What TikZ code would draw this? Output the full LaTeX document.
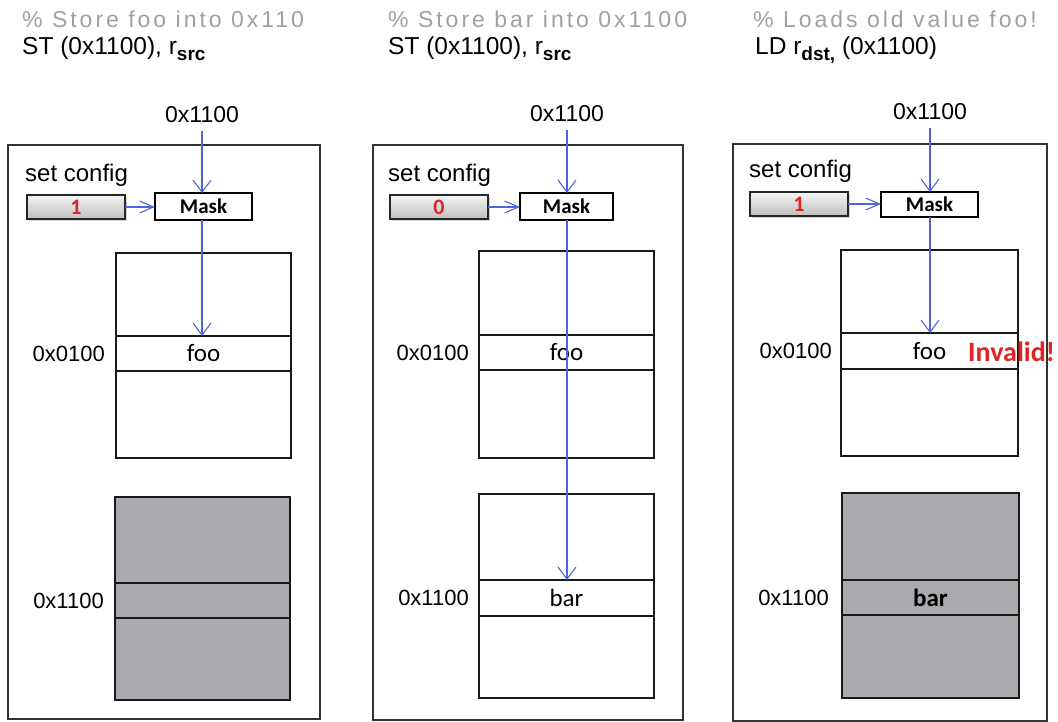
\documentclass[tikz,border=0pt]{standalone}
\usepackage{fontspec}
\setmainfont{Liberation Sans}
\newfontfamily\calfont{Carlito}
\newfontfamily\lightfont[LetterSpace=13]{Liberation Sans}
\usetikzlibrary{arrows.meta,shadows}
\definecolor{arrblue}{RGB}{80,100,220}
\definecolor{graytxt}{RGB}{160,160,160}
\definecolor{redtxt}{RGB}{225,35,35}
\definecolor{memgray}{RGB}{170,170,174}
\newcommand{\subtxt}[1]{\raisebox{-6pt}{\fontsize{19}{19}\selectfont\bfseries #1}}
\begin{document}
\begin{tikzpicture}[x=1pt,y=-1pt,
  frame/.style={draw=black!80, line width=1.6pt},
  cell/.style={draw=black!90, line width=1.8pt, inner sep=0pt, outer sep=0pt, anchor=north west, minimum width=#1},
  whitecell/.style={cell=#1, fill=white},
  graycell/.style={cell=#1, fill=memgray},
  cfgbox/.style={draw=black!85, line width=1.4pt, inner sep=0pt, outer sep=0pt, anchor=north west,
     minimum width=98pt, minimum height=24pt, top color=gray!8, bottom color=gray!50,
     drop shadow={opacity=0.35, shadow xshift=1.5pt, shadow yshift=-2.5pt},
     font=\calfont\fontsize{22}{22}\selectfont\bfseries\color{redtxt}},
  maskbox/.style={draw=black, line width=1.5pt, fill=white, inner sep=0pt, outer sep=0pt, anchor=north west,
     font=\calfont\fontsize{21}{21}\selectfont\bfseries},
  hdrgray/.style={anchor=base west, inner sep=0pt, text=graytxt, font=\lightfont\fontsize{23}{23}\selectfont},
  hdr/.style={anchor=base west, inner sep=0pt, font=\fontsize{24.5}{25}\selectfont},
  addr/.style={anchor=base, inner sep=0pt, font=\fontsize{23}{23}\selectfont},
  lbl/.style={anchor=east, inner sep=0pt, font=\fontsize{22}{22}\selectfont},
  cfgtxt/.style={anchor=base west, inner sep=0pt, font=\fontsize{24}{24}\selectfont},
  val/.style={font=\calfont\fontsize{25}{25}\selectfont},
  arr/.style={draw=arrblue, line width=1.1pt, -{Straight Barb[length=12pt,width=18pt,line width=1.1pt]}},
  harr/.style={draw=arrblue, line width=1.1pt, -{Straight Barb[length=14pt,width=12pt,line width=1.1pt]}}
]
\useasboundingbox (0,0) rectangle (1058,722);

% ---------- headers ----------
\node[hdrgray] (g1) at (22,28) {\% Store foo into 0x110};
\node[hdr] (h1) at (22,55) {ST (0x1100), r\subtxt{src}};
\node[hdrgray] (g2) at (388,28) {\% Store bar into 0x1100};
\node[hdr] (h2) at (388,55) {ST (0x1100), r\subtxt{src}};
\node[hdrgray] (g3) at (753,28) {\% Loads old value foo!};
\node[hdr] (h3) at (755,55) {LD r\subtxt{dst,} (0x1100)};

% ---------- frames ----------
\draw[frame] (8,145) rectangle (320,719);
\draw[frame] (373,145) rectangle (683,720);
\draw[frame] (733,144) rectangle (1047,721);

% ---------- panel 1 ----------
\node[addr] (a1) at (202,123) {0x1100};
\coordinate (t1) at (202,131);
\node[cfgtxt] (s1) at (25,182) {set config};
\node[cfgbox] (c1) at (27,195) {1};
\node[maskbox, minimum width=97pt, minimum height=27pt] (k1) at (155,193) {Mask};
\node[whitecell=175pt, minimum height=83pt] (p1a) at (116,253) {};
\node[whitecell=175pt, minimum height=35pt, val] (p1b) at (116,336) {foo};
\node[whitecell=175pt, minimum height=87pt] (p1c) at (116,371) {};
\node[graycell=175pt, minimum height=86pt] (p1d) at (115,497) {};
\node[graycell=175pt, minimum height=35pt] (p1e) at (115,583) {};
\node[graycell=175pt, minimum height=82pt] (p1f) at (115,618) {};
\node[lbl] (l1a) at ([xshift=-11pt]p1b.west) {0x0100};
\node[lbl] (l1b) at ([xshift=-11pt]p1e.west) {0x1100};
\draw[arr] (t1) -- (t1 |- k1.north);
\draw[harr] (c1.east) -- (c1.east -| k1.west);
\draw[arr] (t1 |- k1.south) -- (t1 |- p1b.north);

% ---------- panel 2 ----------
\node[addr] (a2) at (567,122) {0x1100};
\coordinate (t2) at (567,130);
\node[cfgtxt] (s2) at (388,182) {set config};
\node[cfgbox] (c2) at (390,195) {0};
\node[maskbox, minimum width=93pt, minimum height=27pt] (k2) at (520,193) {Mask};
\node[whitecell=175pt, minimum height=84pt] (p2a) at (479,251) {};
\node[whitecell=175pt, minimum height=35pt, val] (p2b) at (479,335) {foo};
\node[whitecell=175pt, minimum height=88pt] (p2c) at (479,370) {};
\node[whitecell=175pt, minimum height=86pt] (p2d) at (479,494) {};
\node[whitecell=175pt, minimum height=36pt, val] (p2e) at (479,580) {bar};
\node[whitecell=175pt, minimum height=82pt] (p2f) at (479,616) {};
\node[lbl] (l2a) at ([xshift=-10pt]p2b.west) {0x0100};
\node[lbl] (l2b) at ([xshift=-10pt]p2e.west) {0x1100};
\draw[arr] (t2) -- (t2 |- k2.north);
\draw[harr] (c2.east) -- (c2.east -| k2.west);
\draw[arr] (t2 |- k2.south) -- (t2 |- p2e.north);

% ---------- panel 3 ----------
\node[addr] (a3) at (930,120) {0x1100};
\coordinate (t3) at (930,128);
\node[cfgtxt] (s3) at (749,178) {set config};
\node[cfgbox] (c3) at (750,192) {1};
\node[maskbox, minimum width=97pt, minimum height=25pt] (k3) at (881,192) {Mask};
\node[whitecell=177pt, minimum height=83pt] (p3a) at (841,250) {};
\node[whitecell=177pt, minimum height=36pt, val] (p3b) at (841,333) {foo};
\node[whitecell=177pt, minimum height=87pt] (p3c) at (841,369) {};
\node[graycell=177pt, minimum height=87pt] (p3d) at (842,493) {};
\node[graycell=177pt, minimum height=35pt, val, font=\calfont\fontsize{25}{25}\selectfont\bfseries] (p3e) at (842,580) {bar};
\node[graycell=177pt, minimum height=83pt] (p3f) at (842,615) {};
\node[lbl] (l3a) at ([xshift=-9pt]p3b.west) {0x0100};
\node[lbl] (l3b) at ([xshift=-13pt]p3e.west) {0x1100};
\draw[arr] (t3) -- (t3 |- k3.north);
\draw[harr] (c3.east) -- (c3.east -| k3.west);
\draw[arr] (t3 |- k3.south) -- (t3 |- p3b.north);
\node[anchor=west, inner sep=0pt, text=redtxt, font=\calfont\fontsize{28}{28}\selectfont\bfseries] (inv) at (968,352) {Invalid!};
\end{tikzpicture}
\end{document}
